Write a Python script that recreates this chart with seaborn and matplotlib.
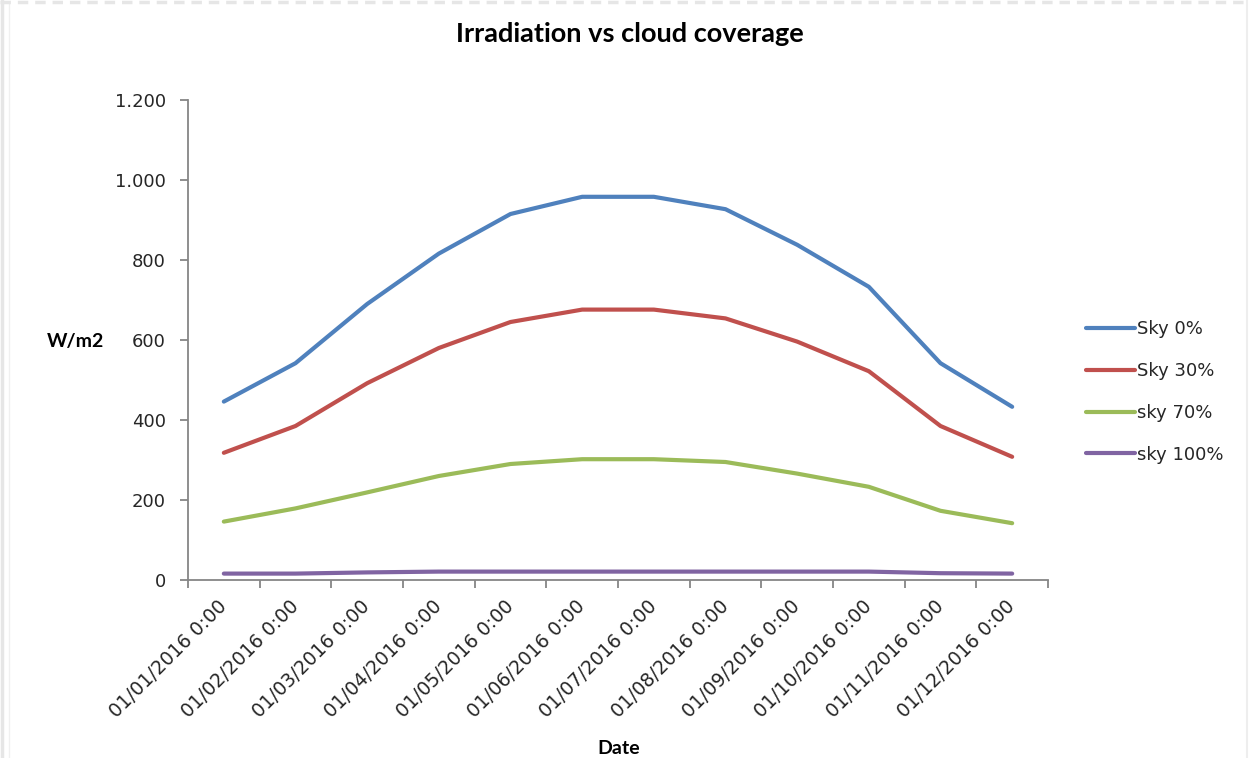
import pandas as pd
import matplotlib
matplotlib.use("Agg")
import matplotlib.pyplot as plt
from matplotlib.ticker import FuncFormatter, FixedLocator
from matplotlib.lines import Line2D
import seaborn as sns

# Monthly irradiation (W/m2) for four cloud-cover scenarios
dates = [
    "01/01/2016 0:00", "01/02/2016 0:00", "01/03/2016 0:00", "01/04/2016 0:00",
    "01/05/2016 0:00", "01/06/2016 0:00", "01/07/2016 0:00", "01/08/2016 0:00",
    "01/09/2016 0:00", "01/10/2016 0:00", "01/11/2016 0:00", "01/12/2016 0:00",
]
sky_0 = [446, 542, 690, 816, 915, 958, 958, 927, 838, 733, 542, 433]
sky_30 = [318, 385, 492, 580, 645, 676, 676, 654, 596, 522, 385, 308]
sky_70 = [146, 179, 219, 260, 290, 302, 302, 295, 266, 233, 173, 142]
sky_100 = [16, 16, 19, 21, 21, 21, 21, 21, 21, 21, 17, 16]

series_names = ["Sky 0%", "Sky 30%", "sky 70%", "sky 100%"]
series_values = [sky_0, sky_30, sky_70, sky_100]
colors = ["#4F81BD", "#C0504D", "#9BBB59", "#8064A2"]
y_ticks = [0, 200, 400, 600, 800, 1000, 1200]

df = pd.concat(
    [pd.DataFrame({"Date": dates, "W/m2": vals, "Series": name})
     for name, vals in zip(series_names, series_values)],
    ignore_index=True,
)

sns.set_theme(style="white")
plt.rcParams["font.family"] = ["DejaVu Sans"]

W, H = 1249, 758
fig, ax = plt.subplots(figsize=(W / 100, H / 100), dpi=100)
fig.subplots_adjust(left=188 / W, right=1048 / W, top=1 - 100 / H, bottom=1 - 580 / H)

palette = dict(zip(series_names, colors))
sns.lineplot(data=df, x="Date", y="W/m2", hue="Series", palette=palette,
             linewidth=3, sort=False, legend=False, ax=ax)
for ln in ax.get_lines():
    ln.set_solid_capstyle("round")
    ln.set_solid_joinstyle("round")

axis_gray = "#868686"
text_color = "#262626"

ax.set_xlim(-0.5, len(dates) - 0.5)
ax.set_ylim(0, 1200)
ax.yaxis.set_major_locator(FixedLocator(y_ticks))
ax.yaxis.set_major_formatter(FuncFormatter(lambda v, _: f"{v:,.0f}".replace(",", ".")))

# Category labels at centres, tick marks at category boundaries
ax.set_xticks(range(len(dates)))
ax.set_xticklabels(dates, rotation=45, ha="right", va="center", rotation_mode="anchor")
ax.set_xticks([i - 0.5 for i in range(len(dates) + 1)], minor=True)
ax.tick_params(axis="x", which="major", length=0, pad=17, labelsize=13.6, labelcolor=text_color)
ax.tick_params(axis="x", which="minor", length=6, width=1.3, color=axis_gray, direction="out", bottom=True)
ax.tick_params(axis="y", length=6, width=1.3, color=axis_gray, direction="out", left=True,
               pad=10, labelsize=13, labelcolor=text_color)

for side in ("top", "right"):
    ax.spines[side].set_visible(False)
for side in ("left", "bottom"):
    ax.spines[side].set_color(axis_gray)
    ax.spines[side].set_linewidth(1.3)

ax.set_xlabel("")
ax.set_ylabel("")
ax.grid(False)

fig.text(630 / W, 1 - 34 / H, "Irradiation vs cloud coverage", ha="center", va="center",
         fontsize=19.5, fontweight="bold", family="Lato", color="black")
fig.text(75 / W, 1 - 341 / H, "W/m2", ha="center", va="center",
         fontsize=14, fontweight="bold", family="Lato", color="black")
fig.text(619 / W, 1 - 748 / H, "Date", ha="center", va="center",
         fontsize=14, fontweight="bold", family="Lato", color="black")

handles = [Line2D([0], [0], color=c, lw=3, solid_capstyle="round") for c in colors]
fig.legend(handles, series_names, loc="center left", bbox_to_anchor=(1086 / W, 1 - 392 / H),
           frameon=False, borderpad=0, borderaxespad=0, handlelength=2.7, handletextpad=0.1,
           labelspacing=1.32, fontsize=13, labelcolor=text_color)

# Light window frame around the chart
frame = "#e6e6e6"
fig.add_artist(Line2D([1.5 / W, 1.5 / W], [0, 1], color=frame, lw=2.5, transform=fig.transFigure))
fig.add_artist(Line2D([9 / W, 9 / W], [0, 1 - 4 / H], color="#f0f0f0", lw=1, transform=fig.transFigure))
fig.add_artist(Line2D([0, 1], [1 - 1.5 / H, 1 - 1.5 / H], color=frame, lw=2.5,
                      linestyle=(0, (3, 2)), transform=fig.transFigure))
fig.add_artist(Line2D([1 - 2 / W, 1 - 2 / W], [0, 1], color="#eeeeee", lw=1.5, transform=fig.transFigure))

fig.savefig("out.png", dpi=100)
